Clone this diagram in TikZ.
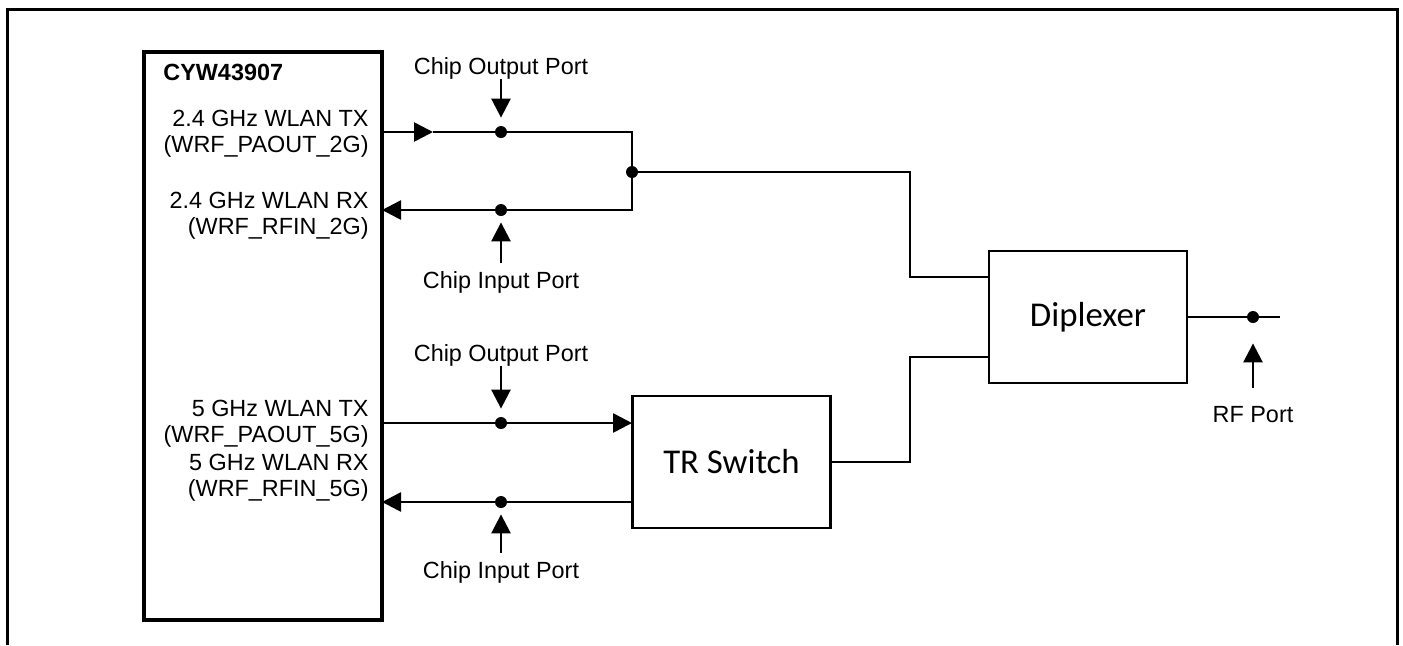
\documentclass[tikz,border=0pt]{standalone}
\usepackage{fontspec}
\setmainfont{Liberation Sans}
\newfontfamily\calibrifont{Carlito}
\usetikzlibrary{arrows.meta,positioning}

\begin{document}
\begin{tikzpicture}[x=0.5pt, y=-0.5pt,
			>={Triangle[length=9.5pt,width=9.5pt]},
			block/.style={draw, line width=1.4pt, minimum width=99pt, minimum height=66pt, font=\calibrifont\fontsize{17.4}{20}\selectfont},
			lbl/.style={inner sep=0pt, font=\fontsize{11.7}{13}\selectfont},
			pin/.style={lbl, align=right, anchor=east},
			dot/.style={circle, fill, inner sep=0pt, minimum size=6pt},
			wire/.style={line width=1.3pt}
			]
			\useasboundingbox (0,0) rectangle (1403,645);
			
			% Frame
			\draw[line width=1.5pt] (7,645) -- (7,9) -- (1397,9) -- (1397,645);
			
			% Chip and blocks
			\node[draw, line width=1.6pt, minimum width=119pt, minimum height=284pt] (chip) at (263,336) {};
			\node[lbl, font=\fontsize{11.7}{13}\selectfont\bfseries, anchor=base west] (chipname) at (163,80) {CYW43907};
			\node[block] (trsw) at (731.5,462) {TR Switch};
			\node[block] (dip) at (1088,317) {Diplexer};
			
			% Pin labels
			\node[pin] (tx2lbl) at (369,134) {2.4 GHz WLAN TX\\(WRF\_PAOUT\_2G)};
			\node[pin] (rx2lbl) at (369,216) {2.4 GHz WLAN RX\\(WRF\_RFIN\_2G)};
			\node[pin] (tx5lbl) at (369,424) {5 GHz WLAN TX\\(WRF\_PAOUT\_5G)};
			\node[pin] (rx5lbl) at (369,478) {5 GHz WLAN RX\\(WRF\_RFIN\_5G)};
			
			% Ports
			\node[dot] (tx2p) at (501,132) {};
			\node[dot] (rx2p) at (501,210) {};
			\node[dot] (j2)   at (632,172) {};
			\node[dot] (tx5p) at (501,423) {};
			\node[dot] (rx5p) at (501,502) {};
			\node[dot] (rfp)  at (1253,317) {};
			
			\coordinate (tx2a) at (382,132);
			\coordinate (tx2m) at (433,132);
			\coordinate (tx2c) at (632,132);
			\coordinate (rx2a) at (382,210);
			\coordinate (rx2c) at (632,210);
			\coordinate (k1) at (910,172);
			\coordinate (k2) at (910,357);
			\coordinate (dipin1) at (989,277);
			\coordinate (dipin2) at (989,357);
			\coordinate (tx5a) at (382,423);
			\coordinate (tx5b) at (632,423);
			\coordinate (rx5a) at (382,502);
			\coordinate (rx5b) at (632,502);
			\coordinate (rfend) at (1280,317);
			
			% 2.4 GHz path
			\draw[wire, ->] (tx2a) -- (tx2m);
			\draw[wire] (tx2m) -- (tx2p) -- (tx2c) -- (rx2c) -- (rx2p);
			\draw[wire, ->] (rx2p) -- (rx2a);
			\draw[wire] (j2) -- (k1) |- (dipin1);
			
			% 5 GHz path
			\draw[wire] (tx5a) -- (tx5p);
			\draw[wire, ->] (tx5p) -- (tx5b);
			\draw[wire] (rx5b) -- (rx5p);
			\draw[wire, ->] (rx5p) -- (rx5a);
			\draw[wire] (trsw.east) -| (k2) -- (dipin2);
			
			% Antenna side
			\draw[wire] (dip.east) -- (rfp) -- (rfend);
			
			% Port markers
			\node[lbl, anchor=base] (outlbl1) at (501,74) {Chip Output Port};
			\node[lbl, anchor=base] (inlbl1)  at (501,288) {Chip Input Port};
			\node[lbl, anchor=base] (outlbl2) at (501,361) {Chip Output Port};
			\node[lbl, anchor=base] (inlbl2)  at (501,578) {Chip Input Port};
			\node[lbl, anchor=base] (rflbl)   at (1253,422) {RF Port};
			\draw[wire, ->, shorten >=4pt] (outlbl1.south) -- (tx2p.north);
			\draw[wire, ->, shorten >=4pt] (outlbl2.south) -- (tx5p.north);
			\draw[wire, ->, shorten <=4pt, shorten >=3pt] (inlbl1.north) -- (rx2p.south);
			\draw[wire, ->, shorten <=4pt, shorten >=3pt] (inlbl2.north) -- (rx5p.south);
			\draw[wire, ->, shorten <=9pt, shorten >=10pt] (rflbl.north) -- (rfp.south);
			
		\end{tikzpicture}
\end{document}
